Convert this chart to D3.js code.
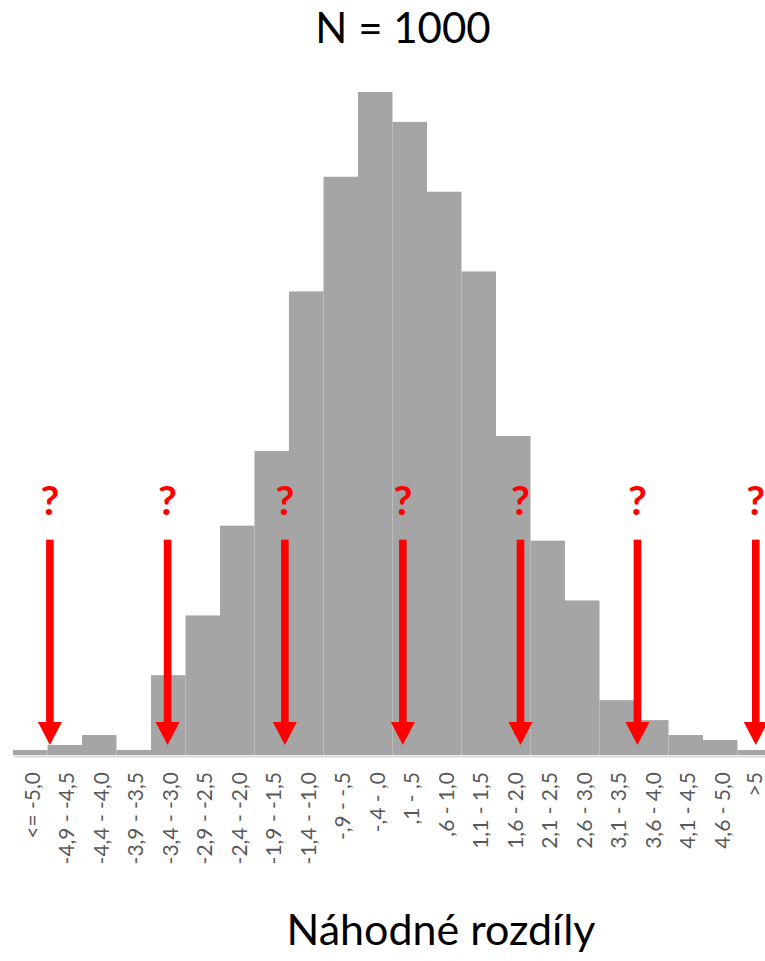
<!DOCTYPE html>
<html>
<head>
<meta charset="utf-8">
<script src="https://cdn.jsdelivr.net/npm/d3@7"></script>
<style>
  html, body { margin: 0; padding: 0; background: #fff; }
  svg { display: block; }
  text { font-family: Lato, "Open Sans", sans-serif; }
</style>
</head>
<body>
<svg id="chart" width="765" height="961"></svg>
<script>
// ---- data ----
const categories = ["<= -5,0", "-4,9 - -4,5", "-4,4 - -4,0", "-3,9 - -3,5", "-3,4 - -3,0",
  "-2,9 - -2,5", "-2,4 - -2,0", "-1,9 - -1,5", "-1,4 - -1,0", "-,9 - -,5", "-,4 - ,0",
  ",1 - ,5", ",6 - 1,0", "1,1 - 1,5", "1,6 - 2,0", "2,1 - 2,5", "2,6 - 3,0",
  "3,1 - 3,5", "3,6 - 4,0", "4,1 - 4,5", "4,6 - 5,0", ">5"];
const counts = [1, 2, 4, 1, 16, 28, 46, 61, 93, 116, 133, 127, 113, 97, 64, 43, 31, 11, 7, 4, 3, 1];
const titleText = "N = 1000";
const xTitle = "Náhodné rozdíly";
// annotation arrows: positions in bar units along the category axis
const arrowPositions = [1.07, 4.48, 7.88, 11.3, 14.71, 18.1, 21.53];
const arrowTipValue = 2;     // count level where arrow tip sits
const arrowTopValue = 43.2;  // count level where shaft starts
const arrowHeadValue = 6.6;  // count level where arrow head begins

// ---- layout ----
const svg = d3.select("#chart");
const x0 = 13, x1 = 772, baseY = 755;
const x = d3.scaleBand().domain(categories).range([x0, x1]).padding(0);
const y = d3.scaleLinear().domain([0, 133]).range([baseY, 92]);
const xPos = d3.scaleLinear().domain([0, categories.length]).range([x0, x1]);

// bars
svg.append("g").selectAll("rect")
  .data(categories)
  .join("rect")
  .attr("x", d => x(d))
  .attr("width", x.bandwidth())
  .attr("y", (d, i) => y(counts[i]))
  .attr("height", (d, i) => baseY - y(counts[i]))
  .attr("fill", "#a5a5a5");

// axis
const axis = d3.axisBottom(x).tickSize(0).tickPadding(0);
const gx = svg.append("g").attr("transform", `translate(0,${baseY + 1})`).call(axis);
gx.select(".domain").attr("stroke", "#d9d9d9").attr("stroke-width", 2);
const last = categories[categories.length - 1];
gx.selectAll(".tick text")
  .attr("font-family", "Lato, 'Open Sans', sans-serif")
  .attr("font-size", 21)
  .attr("fill", "#595959")
  .attr("text-anchor", "end")
  .attr("dy", null)
  .attr("y", 0)
  .attr("dominant-baseline", "central")
  .attr("transform", d => `translate(${d === last ? -1 : 1},16) rotate(-90)`);

// arrows
const ag = svg.append("g");
arrowPositions.forEach(p => {
  const cx = xPos(p);
  ag.append("rect")
    .attr("x", cx - 3.8).attr("width", 7.6)
    .attr("y", y(arrowTopValue)).attr("height", y(arrowHeadValue) - y(arrowTopValue) + 1)
    .attr("fill", "#ff0000");
  ag.append("path")
    .attr("d", `M${cx - 12},${y(arrowHeadValue)} L${cx + 12},${y(arrowHeadValue)} L${cx},${y(arrowTipValue)} Z`)
    .attr("fill", "#ff0000");
  ag.append("text")
    .attr("x", cx).attr("y", 515)
    .attr("text-anchor", "middle")
    .attr("font-size", 41)
    .attr("font-weight", "bold")
    .attr("fill", "#ff0000")
    .text("?");
});

// titles
svg.append("text")
  .attr("x", 403).attr("y", 43)
  .attr("text-anchor", "middle")
  .attr("font-size", 42)
  .attr("fill", "#000")
  .text(titleText);

svg.append("text")
  .attr("x", 441).attr("y", 945)
  .attr("text-anchor", "middle")
  .attr("font-size", 43)
  .attr("fill", "#000")
  .text(xTitle);
</script>
</body>
</html>
